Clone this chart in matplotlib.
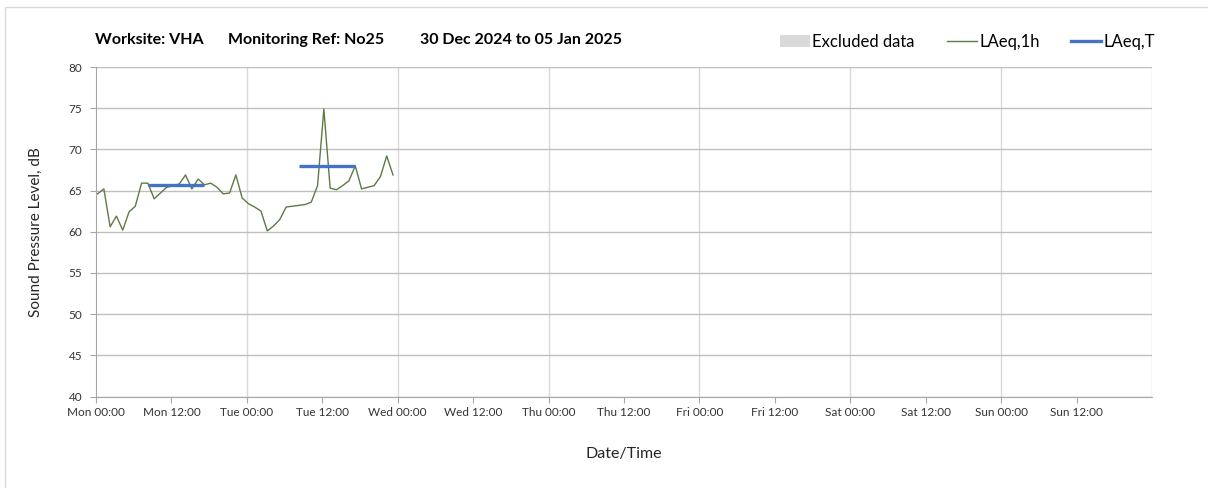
import numpy as np
import pandas as pd
import matplotlib
matplotlib.use("Agg")
import matplotlib.pyplot as plt
import matplotlib.dates as mdates
from matplotlib.patches import Patch, Rectangle

plt.rcParams["font.family"] = ["Lato", "DejaVu Sans"]

# hourly LAeq,1h values (start Mon 30 Dec 2024)
laeq_1h = [64.6, 65.2, 60.6, 61.9, 60.2, 62.4, 63.1, 65.9, 65.9, 64.0,
           64.7, 65.4, 65.6, 65.8, 66.9, 65.2, 66.4, 65.7, 65.9, 65.4,
           64.6, 64.7, 66.9, 64.1, 63.4, 63.0, 62.5, 60.1, 60.7, 61.5,
           63.0, 63.1, 63.2, 63.3, 63.6, 65.6, 74.9, 65.3, 65.1, 65.6,
           66.2, 68.0, 65.2, 65.4, 65.6, 66.7, 69.2, 66.9]
start_time = "2024-12-30 00:15"

# LAeq,T daytime periods (start, end, level)
period_start = ["2024-12-30 08:15", "2024-12-31 08:15"]
period_end = ["2024-12-30 17:15", "2024-12-31 17:15"]
period_level = [65.7, 68.0]

week_start = pd.Timestamp("2024-12-30")
week_end = pd.Timestamp("2025-01-06")

times = pd.date_range(start_time, periods=len(laeq_1h), freq="h")

fig = plt.figure(figsize=(12.08, 4.88), dpi=100)
ax = fig.add_axes([96 / 1208, 1 - 396.5 / 488, (1152 - 96) / 1208, (396.5 - 67) / 488])

ax.plot(times, laeq_1h, color="#5e7a45", lw=1.0, label="LAeq,1h")
for s, e, v in zip(period_start, period_end, period_level):
    ax.plot([pd.Timestamp(s), pd.Timestamp(e)], [v, v], color="#4472c4", lw=2.4,
            solid_capstyle="butt")

ax.set_xlim(week_start, week_end)
ax.set_ylim(40, 80)
ax.set_yticks(np.arange(40, 81, 5))
ax.xaxis.set_major_formatter(mdates.DateFormatter("%a %H:%M"))
ax.set_xticks(pd.date_range(week_start, week_end, freq="12h")[:-1])

ax.yaxis.grid(True, color="#bfbfbf", lw=1.0)
for d in pd.date_range(week_start, week_end, freq="D")[1:]:
    ax.axvline(d, color="#d9d9d9", lw=1.0, zorder=0)
ax.set_axisbelow(True)

for side in ["top", "right"]:
    ax.spines[side].set_visible(False)
for side in ["left", "bottom"]:
    ax.spines[side].set_color("#a6a6a6")
ax.tick_params(axis="both", colors="#a6a6a6", labelcolor="#333333", labelsize=8.5, length=4)
ax.tick_params(axis="y", pad=6)

ax.set_ylabel("Sound Pressure Level, dB", fontsize=11, color="#262626", labelpad=18)
ax.set_xlabel("Date/Time", fontsize=11.5, color="#262626", labelpad=21)

# title pieces
title_y = 1 - 40 / 488
fig.text(95 / 1208, title_y, "Worksite: VHA", fontsize=11.5, fontweight="bold", va="center")
fig.text(228 / 1208, title_y, "Monitoring Ref: No25", fontsize=11.5, fontweight="bold", va="center")
fig.text(420 / 1208, title_y, "30 Dec 2024 to 05 Jan 2025", fontsize=11.5, fontweight="bold", va="center")

handles = [Patch(facecolor="#d9d9d9", edgecolor="none", label="Excluded data"),
           plt.Line2D([], [], color="#5e7a45", lw=1.0, label="LAeq,1h"),
           plt.Line2D([], [], color="#4472c4", lw=2.4, label="LAeq,T")]
fig.legend(handles=handles, loc="center right", bbox_to_anchor=(1162 / 1208, 1 - 42 / 488),
           ncol=3, frameon=False, fontsize=12, handlelength=1.8, handletextpad=0.15,
           columnspacing=1.9, borderaxespad=0)

fig.patches.append(Rectangle((5 / 1208, -0.1), 1.2, 1 - 7 / 488 + 0.1, transform=fig.transFigure,
                             fill=False, edgecolor="#d9d9d9", lw=1.0))

fig.savefig("out.png", dpi=100)
